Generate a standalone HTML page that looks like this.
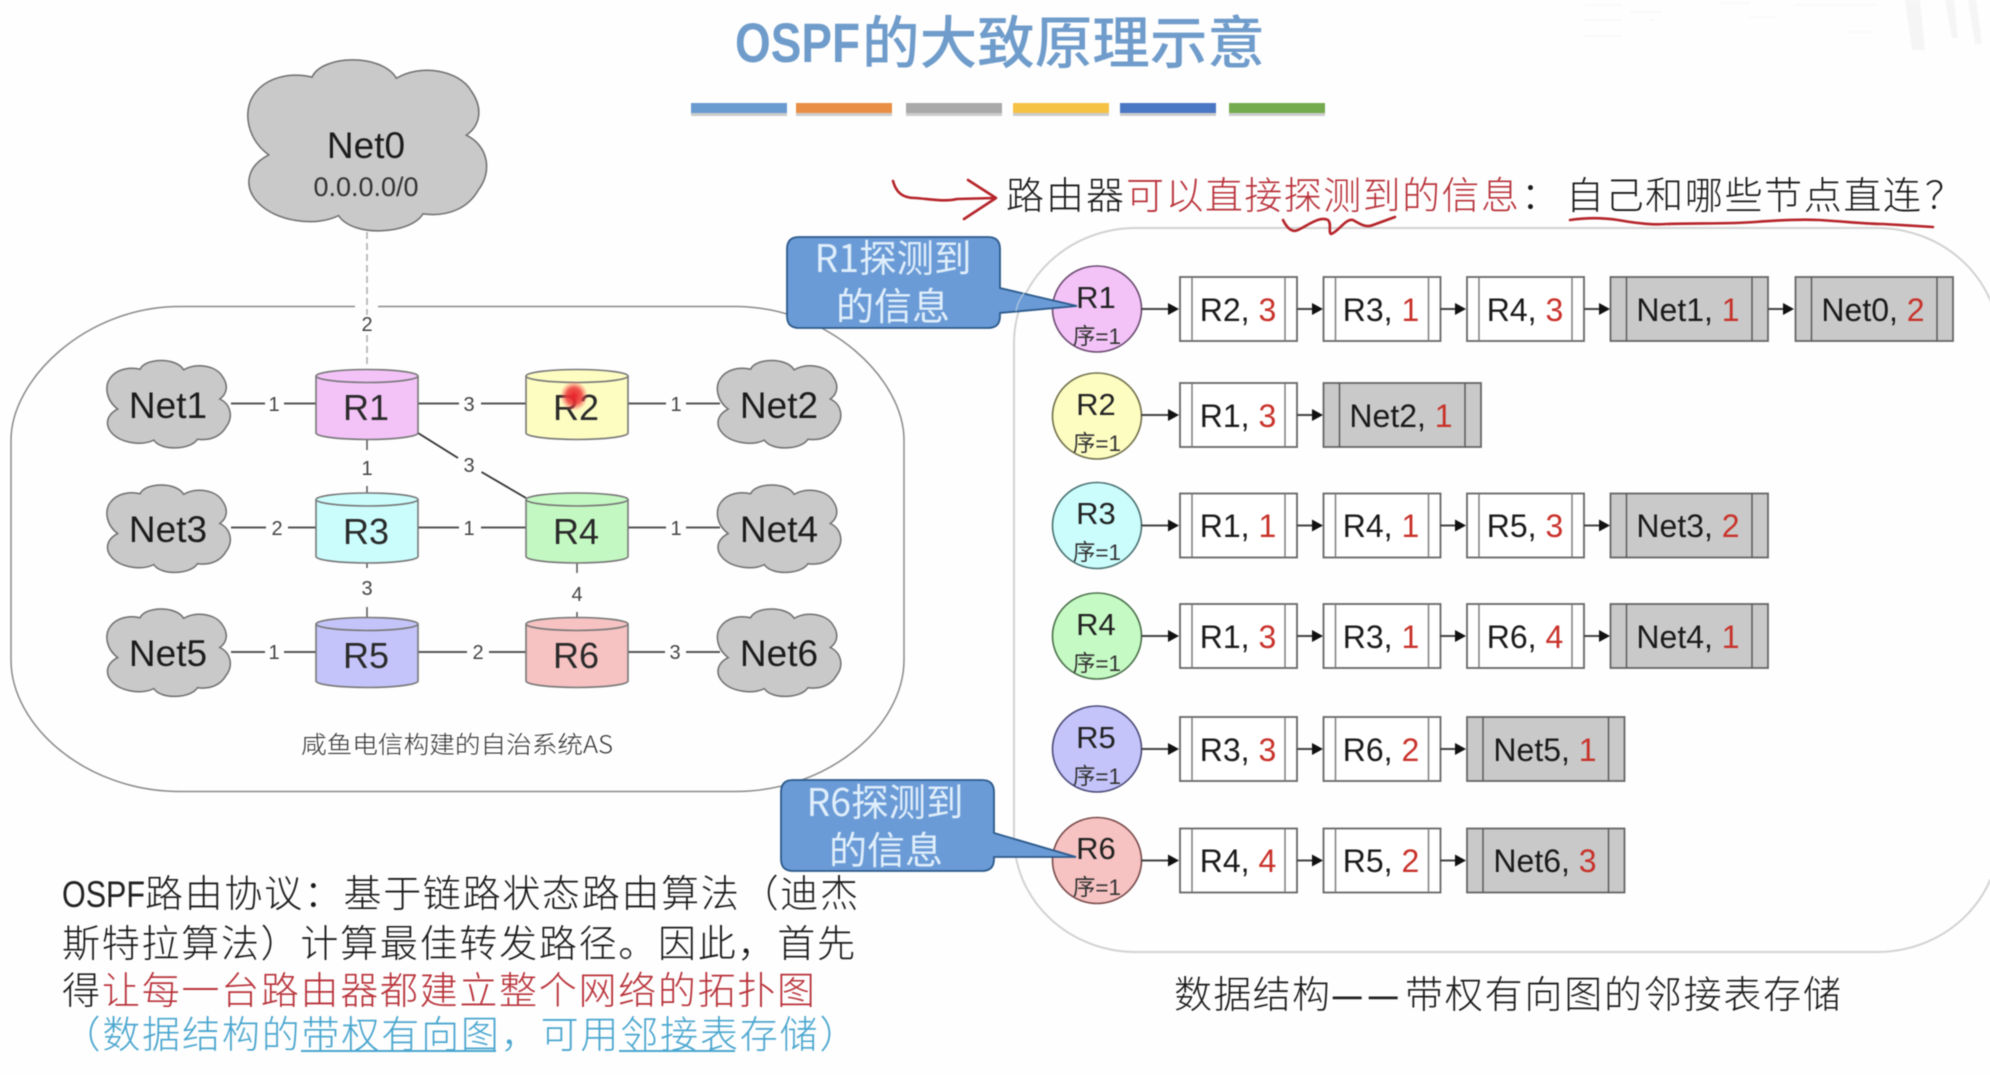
<!DOCTYPE html>
<html lang="zh"><head><meta charset="utf-8"><title>OSPF的大致原理示意</title>
<style>
html,body{margin:0;padding:0;background:#fff;width:1990px;height:1075px;overflow:hidden}
svg{display:block;filter:blur(.45px)}
text{font-family:"Liberation Sans","Noto Sans CJK SC",sans-serif}
.cjk{font-family:"Noto Sans CJK SC","Liberation Sans",sans-serif;font-weight:300}
.n{font-size:37px;fill:#1c1c1c;text-anchor:middle}
.r{font-size:36px;fill:#2a2a2a;text-anchor:middle}
.w{font-size:20px;fill:#444;text-anchor:middle}
.c{font-size:31px;fill:#222;text-anchor:middle}
.q{font-size:22.5px;fill:#333;text-anchor:middle}
.t{font-size:32px;fill:#1a1a1a;text-anchor:middle}
.t tspan{fill:#c8322a}
.l{stroke:#555;stroke-width:2;fill:none}
.bt{font-size:38px;fill:#1a1a1a}
.red{fill:#b8323a}
.cy{fill:#4aa6cf}
.ct{font-size:38px;fill:#dfeefb;text-anchor:middle;font-family:"Noto Sans CJK SC","Liberation Sans",sans-serif;font-weight:400}
.hand{fill:none;stroke:#b5242a;stroke-width:2.6;stroke-linecap:round;stroke-linejoin:round}
</style></head><body>
<svg width="1990" height="1075" viewBox="0 0 1990 1075" xmlns="http://www.w3.org/2000/svg">
<defs>
<path id="cloud" vector-effect="non-scaling-stroke" fill="#c9c9c9" stroke="#6e6e6e" stroke-width="1.5" d="M27 10C31-3 56-4 62 10.700C72 2 88 6 93 18C98 28 97 38 91 44C100 50 102 65 96 76C92 86 84 92 73 90C68 102 44 104 38 91C28 98 12 94 5 84C-2 74 0 62 9 55.500C0 46-2 30 3 20C8 10 18 7 27 10Z"/>
<g id="cyl" stroke="#777" stroke-width="1.6"><path d="M-51-28.500A51 6.500 0 0 1 51-28.500V28.500A51 6.500 0 0 1-51 28.500Z"/><path fill="none" d="M-51-28.500A51 6.500 0 0 0 51-28.500"/></g>
<g id="b"><rect x="0" y="-32" width="117" height="64" fill="#fff" stroke="#666" stroke-width="1.8"/><path d="M12-32V32M105-32V32" stroke="#777" stroke-width="1.4"/></g>
<g id="nb"><rect x="0" y="-32" width="157.500" height="64" fill="#c9c9c9" stroke="#666" stroke-width="1.8"/><path d="M16-32V32M141.500-32V32" stroke="#555" stroke-width="1.4"/></g>
<g id="a1"><path d="M0 0H30" stroke="#444" stroke-width="2"/><path d="M27-6L38 0L27 6Z" fill="#111"/></g>
<g id="a2"><path d="M0 0H17" stroke="#444" stroke-width="2"/><path d="M15-6L26 0L15 6Z" fill="#111"/></g>
<radialGradient id="dot"><stop offset="0" stop-color="#e8202a"/><stop offset=".55" stop-color="#ee3a3a" stop-opacity=".85"/><stop offset="1" stop-color="#f66" stop-opacity="0"/></radialGradient>
</defs>
<rect width="1990" height="1075" fill="#fefefe"/>

<!-- watermark -->
<path d="M1905 0L1912 50H1925L1920 0ZM1945 0L1952 38H1958L1954 0ZM1968 0L1975 44H1982L1976 0Z" fill="#f5f5f5"/>
<path d="M1585 5H1622M1585 20H1622M1585 36H1622M1630 12H1662M1650 20H1655M1720 3H1750M1750 17H1775M1795 5H1875M1850 32H1870" stroke="#f9f9f9" stroke-width="2" fill="none"/>

<!-- title -->
<text x="735" y="62" font-size="56" font-weight="700" fill="#6f9ccb" textLength="125" lengthAdjust="spacingAndGlyphs">OSPF</text>
<text x="862" y="63" font-size="57" font-weight="500" fill="#6f9ccb" textLength="403" lengthAdjust="spacingAndGlyphs" style="font-family:'Noto Sans CJK SC',sans-serif">的大致原理示意</text>
<g>
<rect x="691" y="110" width="96" height="6" fill="#ccc"/><rect x="796" y="110" width="96" height="6" fill="#ccc"/><rect x="906" y="110" width="96" height="6" fill="#ccc"/><rect x="1013" y="110" width="96" height="6" fill="#ccc"/><rect x="1120" y="110" width="96" height="6" fill="#ccc"/><rect x="1229" y="110" width="96" height="6" fill="#ccc"/>
<rect x="691" y="103" width="96" height="10" fill="#6a9bd0"/><rect x="796" y="103" width="96" height="10" fill="#e88f45"/><rect x="906" y="103" width="96" height="10" fill="#a9a9a9"/><rect x="1013" y="103" width="96" height="10" fill="#f5c243"/><rect x="1120" y="103" width="96" height="10" fill="#4a78c4"/><rect x="1229" y="103" width="96" height="10" fill="#73ab4e"/>
</g>

<!-- AS outline -->
<path fill="none" stroke="#8a8a8a" stroke-width="1.5" d="M355 306.500H180C85 306.500 11 380 11 440V660C11 725 85 791.500 180 791.500H735C830 791.500 904 725 904 660V440C904 380 830 306.500 735 306.500H378"/>

<!-- Net0 -->
<use href="#cloud" transform="translate(247,60) scale(2.41,1.71)"/>
<text class="n" x="366" y="158">Net0</text>
<text x="366" y="196" font-size="27" fill="#333" text-anchor="middle">0.0.0.0/0</text>
<path d="M367 232V315M367 335V368" stroke="#aaa" stroke-width="1.5" stroke-dasharray="7 4" fill="none"/>
<text class="w" x="367" y="331">2</text>

<!-- small clouds -->
<use href="#cloud" transform="translate(106.500,360.500) scale(1.245,.875)"/>
<use href="#cloud" transform="translate(717,360.500) scale(1.245,.875)"/>
<use href="#cloud" transform="translate(106.500,485) scale(1.245,.875)"/>
<use href="#cloud" transform="translate(717,485) scale(1.245,.875)"/>
<use href="#cloud" transform="translate(106.500,609) scale(1.245,.875)"/>
<use href="#cloud" transform="translate(717,609) scale(1.245,.875)"/>
<text class="n" x="168" y="418">Net1</text><text class="n" x="779" y="418">Net2</text>
<text class="n" x="168" y="542">Net3</text><text class="n" x="779" y="542">Net4</text>
<text class="n" x="168" y="666">Net5</text><text class="n" x="779" y="666">Net6</text>

<!-- links -->
<path class="l" d="M231 403.500H265M284 403.500H316M418 403.500H459M481 403.500H526M628 403.500H666M686 403.500H720"/>
<path class="l" d="M231 527.500H266M288 527.500H316M418 527.500H459M481 527.500H526M628 527.500H666M686 527.500H720"/>
<path class="l" d="M231 652H265M284 652H316M418 652H467M489 652H526M628 652H665M686 652H720"/>
<path d="M367 439V450M367 486V493M367 562V568M367 607V618M577 562V573M577 612V618" stroke="#555" stroke-width="1.500" fill="none"/>
<path d="M418 433L458 458M481.500 472L526 498" stroke="#333" stroke-width="1.800" fill="none"/>
<text class="w" x="274" y="411">1</text><text class="w" x="469" y="411">3</text><text class="w" x="676" y="411">1</text>
<text class="w" x="277" y="535">2</text><text class="w" x="469" y="535">1</text><text class="w" x="676" y="535">1</text>
<text class="w" x="274" y="659">1</text><text class="w" x="478" y="659">2</text><text class="w" x="675" y="659">3</text>
<text class="w" x="367" y="475">1</text><text class="w" x="469" y="472">3</text>
<text class="w" x="367" y="595">3</text><text class="w" x="577" y="601">4</text>

<!-- cylinders -->
<use href="#cyl" x="367" y="404.500" fill="#f3c3f8"/>
<use href="#cyl" x="577" y="404.500" fill="#fdfdc2"/>
<use href="#cyl" x="367" y="528" fill="#cbfdfd"/>
<use href="#cyl" x="577" y="528" fill="#c4f8c2"/>
<use href="#cyl" x="367" y="652.500" fill="#c4c4fa"/>
<use href="#cyl" x="577" y="652.500" fill="#f6c2c2"/>
<text class="r" x="366" y="420">R1</text><text class="r" x="576" y="420">R2</text>
<text class="r" x="366" y="544">R3</text><text class="r" x="576" y="544">R4</text>
<text class="r" x="366" y="668">R5</text><text class="r" x="576" y="668">R6</text>
<ellipse cx="574" cy="396" rx="14" ry="15" fill="url(#dot)"/>

<text class="cjk" x="301" y="753" font-size="24" fill="#333" textLength="312" lengthAdjust="spacingAndGlyphs">咸鱼电信构建的自治系统AS</text>

<!-- right rounded panel -->
<rect x="1014" y="228" width="985" height="724" rx="122" ry="115" fill="none" stroke="#d2d2d2" stroke-width="2"/>

<!-- top note -->
<text class="bt cjk" x="1006" y="209" textLength="118">路由器</text>
<text class="bt cjk red" x="1126" y="209" textLength="393">可以直接探测到的信息</text>
<text class="bt cjk" x="1521" y="209">：</text>
<text class="bt cjk" x="1566" y="209" textLength="355">自己和哪些节点直连</text>
<text class="bt cjk" x="1925" y="209">？</text>
<path class="hand" d="M893 181C896 192 902 198 915 198C930 199 945 202 957 199L995 198M968 180L996 198L964 219"/>
<path class="hand" d="M1283 220C1287 228 1292 233 1298 230C1310 224 1320 216 1328 220C1332 224 1328 232 1331 234C1338 232 1346 218 1353 220C1360 224 1366 228 1373 225L1395 217"/>
<path class="hand" d="M1570 220C1590 217 1605 218 1618 220C1640 224 1655 225 1666 224C1700 223 1730 224 1755 222C1780 220 1800 219 1819 220C1850 222 1870 224 1883 224L1933 227"/>

<!-- circles -->
<g stroke-width="1.6">
<ellipse cx="1097" cy="309" rx="44.500" ry="43" fill="#f3c3f8" stroke="#6b4a70"/>
<ellipse cx="1097" cy="416" rx="44.500" ry="43" fill="#fdfdc2" stroke="#70704a"/>
<ellipse cx="1097" cy="525.500" rx="44.500" ry="43" fill="#cbfdfd" stroke="#4a7070"/>
<ellipse cx="1097" cy="636" rx="44.500" ry="43" fill="#c6fac4" stroke="#4a704a"/>
<ellipse cx="1097" cy="749" rx="44.500" ry="43" fill="#c4c4fa" stroke="#4a4a78"/>
<ellipse cx="1097" cy="860.500" rx="44.500" ry="43" fill="#f6c2c2" stroke="#784a4a"/>
</g>

<!-- callouts -->
<path d="M799 237H988Q1000 237 1000 249V288L1077 306L1000 313V316Q1000 328 988 328H799Q787 328 787 316V249Q787 237 799 237Z" fill="#6b9bd6" stroke="#2c5a8c" stroke-width="1.800"/>
<path d="M1024 293C1019 300 1017 305 1016 311" stroke="#a8c2dd" stroke-width="1.500" fill="none"/>
<text class="ct" x="893" y="272" textLength="157" lengthAdjust="spacingAndGlyphs">R1探测到</text>
<text class="ct" x="893" y="320">的信息</text>
<path d="M793 780H982Q994 780 994 792V833L1076 857L994 857V859Q994 871 982 871H793Q781 871 781 859V792Q781 780 793 780Z" fill="#6b9bd6" stroke="#2c5a8c" stroke-width="1.800"/>
<text class="ct" x="885" y="816" textLength="157" lengthAdjust="spacingAndGlyphs">R6探测到</text>
<text class="ct" x="886" y="864">的信息</text>

<text class="c" x="1096" y="308">R1</text><text class="q" x="1097" y="344">序=1</text>
<text class="c" x="1096" y="415">R2</text><text class="q" x="1097" y="451">序=1</text>
<text class="c" x="1096" y="524">R3</text><text class="q" x="1097" y="560">序=1</text>
<text class="c" x="1096" y="635">R4</text><text class="q" x="1097" y="671">序=1</text>
<text class="c" x="1096" y="748">R5</text><text class="q" x="1097" y="784">序=1</text>
<text class="c" x="1096" y="859">R6</text><text class="q" x="1097" y="895">序=1</text>

<!-- row 1 -->
<use href="#a1" x="1141" y="309"/><use href="#b" x="1180" y="309"/><use href="#a2" x="1297" y="309"/><use href="#b" x="1323.500" y="309"/><use href="#a2" x="1440" y="309"/><use href="#b" x="1467" y="309"/><use href="#a2" x="1584" y="309"/><use href="#nb" x="1610.500" y="309"/><use href="#a2" x="1768" y="309"/><use href="#nb" x="1795.500" y="309"/>
<text class="t" x="1238" y="321">R2, <tspan>3</tspan></text><text class="t" x="1381" y="321">R3, <tspan>1</tspan></text><text class="t" x="1525" y="321">R4, <tspan>3</tspan></text><text class="t" x="1688" y="321">Net1, <tspan>1</tspan></text><text class="t" x="1873" y="321">Net0, <tspan>2</tspan></text>
<!-- row 2 -->
<use href="#a1" x="1141" y="415"/><use href="#b" x="1180" y="415"/><use href="#a2" x="1297" y="415"/><use href="#nb" x="1323.500" y="415"/>
<text class="t" x="1238" y="427">R1, <tspan>3</tspan></text><text class="t" x="1401" y="427">Net2, <tspan>1</tspan></text>
<!-- row 3 -->
<use href="#a1" x="1141" y="525.500"/><use href="#b" x="1180" y="525.500"/><use href="#a2" x="1297" y="525.500"/><use href="#b" x="1323.500" y="525.500"/><use href="#a2" x="1440" y="525.500"/><use href="#b" x="1467" y="525.500"/><use href="#a2" x="1584" y="525.500"/><use href="#nb" x="1610.500" y="525.500"/>
<text class="t" x="1238" y="537">R1, <tspan>1</tspan></text><text class="t" x="1381" y="537">R4, <tspan>1</tspan></text><text class="t" x="1525" y="537">R5, <tspan>3</tspan></text><text class="t" x="1688" y="537">Net3, <tspan>2</tspan></text>
<!-- row 4 -->
<use href="#a1" x="1141" y="636"/><use href="#b" x="1180" y="636"/><use href="#a2" x="1297" y="636"/><use href="#b" x="1323.500" y="636"/><use href="#a2" x="1440" y="636"/><use href="#b" x="1467" y="636"/><use href="#a2" x="1584" y="636"/><use href="#nb" x="1610.500" y="636"/>
<text class="t" x="1238" y="648">R1, <tspan>3</tspan></text><text class="t" x="1381" y="648">R3, <tspan>1</tspan></text><text class="t" x="1525" y="648">R6, <tspan>4</tspan></text><text class="t" x="1688" y="648">Net4, <tspan>1</tspan></text>
<!-- row 5 -->
<use href="#a1" x="1141" y="749"/><use href="#b" x="1180" y="749"/><use href="#a2" x="1297" y="749"/><use href="#b" x="1323.500" y="749"/><use href="#a2" x="1440" y="749"/><use href="#nb" x="1467" y="749"/>
<text class="t" x="1238" y="761">R3, <tspan>3</tspan></text><text class="t" x="1381" y="761">R6, <tspan>2</tspan></text><text class="t" x="1545" y="761">Net5, <tspan>1</tspan></text>
<!-- row 6 -->
<use href="#a1" x="1141" y="860.500"/><use href="#b" x="1180" y="860.500"/><use href="#a2" x="1297" y="860.500"/><use href="#b" x="1323.500" y="860.500"/><use href="#a2" x="1440" y="860.500"/><use href="#nb" x="1467" y="860.500"/>
<text class="t" x="1238" y="872">R4, <tspan>4</tspan></text><text class="t" x="1381" y="872">R5, <tspan>2</tspan></text><text class="t" x="1545" y="872">Net6, <tspan>3</tspan></text>

<!-- caption -->
<text class="bt cjk" x="1174" y="1008" textLength="156">数据结构</text>
<text class="cjk" x="1331" y="1008" font-size="36" fill="#222" style="font-weight:500">—</text>
<text class="cjk" x="1367" y="1008" font-size="36" fill="#222" style="font-weight:500">—</text>
<text class="bt cjk" x="1405" y="1008" textLength="436">带权有向图的邻接表存储</text>

<!-- bottom text -->
<text x="62" y="907" font-size="37" fill="#222" textLength="83" lengthAdjust="spacingAndGlyphs">OSPF</text>
<text class="bt cjk" x="145" y="907" textLength="713">路由协议：基于链路状态路由算法（迪杰</text>
<text class="bt cjk" x="62" y="957" textLength="793">斯特拉算法）计算最佳转发路径。因此，首先</text>
<text class="bt cjk" x="62" y="1004">得</text>
<text class="bt cjk red" x="102" y="1004" textLength="713">让每一台路由器都建立整个网络的拓扑图</text>
<text class="bt cjk cy" x="62.500" y="1048" textLength="795">（数据结构的带权有向图，可用邻接表存储）</text>
<path d="M301 1051H496M619 1051H735" stroke="#4aa6cf" stroke-width="2"/>
</svg>
</body></html>
